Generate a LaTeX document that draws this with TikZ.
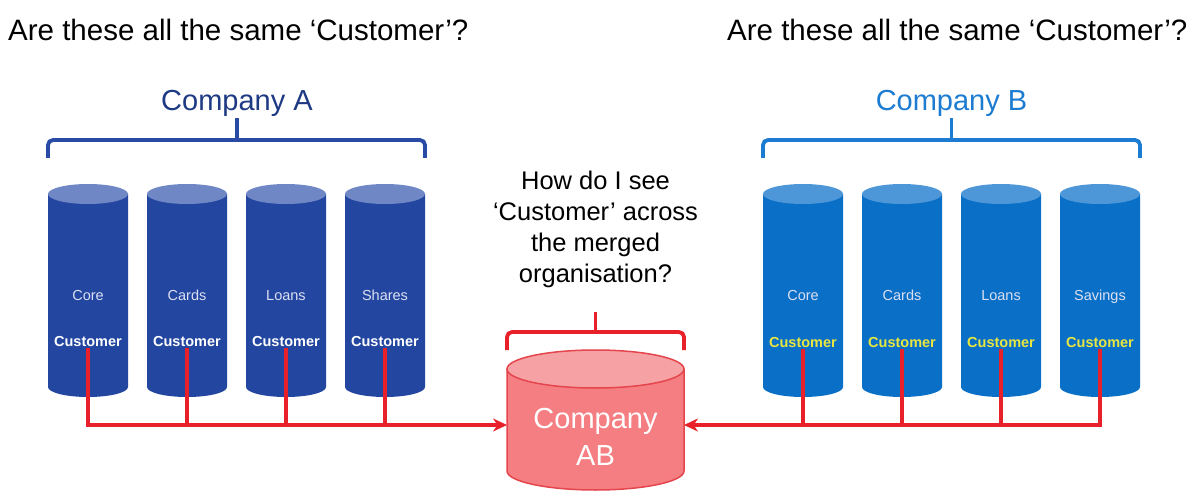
\documentclass[tikz,border=0pt]{standalone}
\usepackage{fontspec}
\setmainfont{Liberation Sans}
\usetikzlibrary{arrows.meta}
\definecolor{blueA}{HTML}{2346A0}
\definecolor{blueAtop}{HTML}{6F87C5}
\definecolor{blueB}{HTML}{0A6FC6}
\definecolor{blueBtop}{HTML}{4D97D8}
\definecolor{navy}{HTML}{1F3A84}
\definecolor{skyB}{HTML}{1C7CD2}
\definecolor{bracketA}{HTML}{2A4BA5}
\definecolor{linkred}{HTML}{E8202A}
\definecolor{abbody}{HTML}{F47E82}
\definecolor{abtop}{HTML}{F6A2A5}
\definecolor{abedge}{HTML}{E5454C}
\definecolor{custyellow}{HTML}{E8E640}
\definecolor{paletext}{HTML}{DCE0F2}
\begin{document}
\begin{tikzpicture}[x=1pt,y=-1pt,
  title/.style={font=\fontsize{29.5}{34}\selectfont, anchor=west, inner sep=0},
  company/.style={font=\fontsize{29}{34}\selectfont, inner sep=0},
  colname/.style={font=\fontsize{14.5}{17}\selectfont, text=paletext, inner sep=1pt,
                  text height=10.5pt, text depth=3pt},
  custA/.style={font=\bfseries\fontsize{14.5}{17}\selectfont, text=white, inner sep=1pt},
  custB/.style={font=\bfseries\fontsize{14.5}{17}\selectfont, text=custyellow, inner sep=1pt},
  brace/.style={line width=3.8pt, rounded corners=5pt},
  link/.style={linkred, line width=3.8pt},
  tip/.style={-{Stealth[length=14pt,width=13pt]}}]
\useasboundingbox (0,0) rectangle (1199,497);
\fill[white] (0,0) rectangle (1199,497);

% headings
\node[title] (tl) at (8,30) {Are these all the same ‘Customer’?};
\node[title] (tr) at (727,30) {Are these all the same ‘Customer’?};

% company labels and braces
\node[company, text=navy] (compA) at (237,103) {Company A};
\node[company, text=skyB] (compB) at (951.5,103) {Company B};
\draw[brace, bracketA] (48,158) -- (48,140) -- (425,140) -- (425,158);
\draw[brace, bracketA, rounded corners=0] (237,140) -- (237,118);
\draw[brace, skyB] (763,158) -- (763,140) -- (1140,140) -- (1140,158);
\draw[brace, skyB, rounded corners=0] (951.5,140) -- (951.5,118);

% Company A systems
\foreach \cx/\lab/\n in {88/Core/1,187/Cards/2,286/Loans/3,385/Shares/4}{
  \fill[blueA] ({\cx-40},194) -- ({\cx-40},387)
     arc[start angle=180,end angle=0,x radius=40,y radius=10] -- ({\cx+40},194) -- cycle;
  \fill[blueAtop] (\cx,194) ellipse[x radius=40,y radius=10];
  \node[colname] (a\n) at (\cx,297) {\lab};
  \node[custA] (ca\n) at (\cx,342) {Customer};
}

% Company B systems
\foreach \cx/\lab/\n in {803/Core/1,902/Cards/2,1001/Loans/3,1100/Savings/4}{
  \fill[blueB] ({\cx-40},194) -- ({\cx-40},387)
     arc[start angle=180,end angle=0,x radius=40,y radius=10] -- ({\cx+40},194) -- cycle;
  \fill[blueBtop] (\cx,194) ellipse[x radius=40,y radius=10];
  \node[colname] (b\n) at (\cx,297) {\lab};
  \node[custB] (cb\n) at (\cx,343) {Customer};
}

% question
\node[align=center, font=\fontsize{25.5}{31}\selectfont, inner sep=0] (q) at (595.5,229)
  {How do I see\\‘Customer’ across\\the merged\\organisation?};

% merged store
\draw[brace, linkred] (507,350) -- (507,332) -- (684,332) -- (684,350);
\draw[brace, linkred, rounded corners=0] (595.5,332) -- (595.5,312);
\filldraw[fill=abbody, draw=abedge, line width=1.5pt] (507,369) -- (507,471)
   arc[start angle=180,end angle=0,x radius=88.5,y radius=19] -- (684,369) -- cycle;
\filldraw[fill=abtop, draw=abedge, line width=1.5pt] (595.5,369) ellipse[x radius=88.5,y radius=19];
\node[company, text=white, align=center, font=\fontsize{29}{37}\selectfont] (ab) at (595.5,437) {Company\\AB};
\coordinate (abL) at (507,425);
\coordinate (abR) at (684,425);

% links into the merged store
\draw[link, tip] (ca1.south) |- (abL);
\foreach \n in {2,3,4} \draw[link] (ca\n.south) -- (ca\n.south |- abL);
\draw[link, tip] (cb4.south) |- (abR);
\foreach \n in {1,2,3} \draw[link] (cb\n.south) -- (cb\n.south |- abR);
\end{tikzpicture}
\end{document}
